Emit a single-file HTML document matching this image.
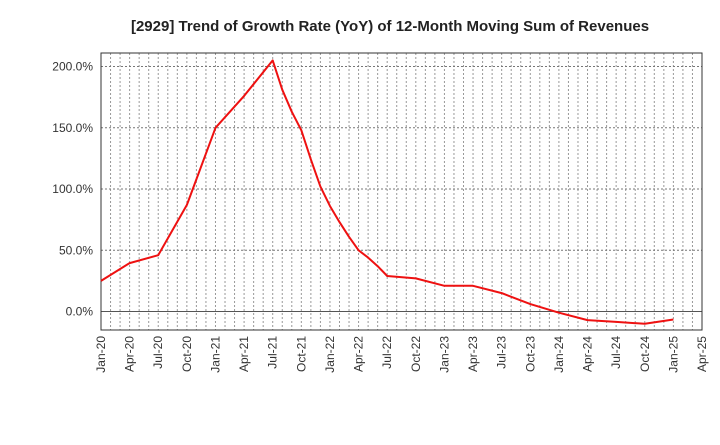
<!DOCTYPE html>
<html><head><meta charset="utf-8"><style>
body{margin:0;background:#fff;font-family:"Liberation Sans",Arial,sans-serif}
</style></head><body>
<svg id="c" width="720" height="440" xmlns="http://www.w3.org/2000/svg">
<text x="390" y="31" text-anchor="middle" font-size="15" font-weight="bold" fill="#222">[2929]  Trend of Growth Rate (YoY) of 12-Month Moving Sum of Revenues</text>
<g id="grid"></g><g id="axes"></g><g id="series"></g>
</svg>
<script>
const xTickLabels=["Jan-20","Apr-20","Jul-20","Oct-20","Jan-21","Apr-21","Jul-21","Oct-21","Jan-22","Apr-22","Jul-22","Oct-22","Jan-23","Apr-23","Jul-23","Oct-23","Jan-24","Apr-24","Jul-24","Oct-24","Jan-25","Apr-25"];
const yTicks=[0,50,100,150,200];
const monthIdx=[0,3,6,9,12,15,18,19,20,21,22,23,24,25,26,27,28,29,30,33,36,39,42,45,48,51,54,57,60];
const growth=[25,39.5,46,87,150,176,205,181,163,148,124,102,86,73,61,50,44,37,29,27,21,21,15,6,-1,-7,-8.5,-10,-6.5];
const L=101,R=702,T=53,B=330,NM=63;
const X=m=>L+(R-L)*m/NM;
const Y=v=>311.5-v*1.225;
const ns="http://www.w3.org/2000/svg";
function mk(t,a,p){const e=document.createElementNS(ns,t);for(const k in a)e.setAttribute(k,a[k]);p.appendChild(e);return e;}
const grid=document.getElementById('grid'),axes=document.getElementById('axes'),series=document.getElementById('series');
for(let m=1;m<NM;m++){
 const g=mk('line',{x1:X(m),x2:X(m),y1:T,y2:B,stroke:'#999','stroke-dasharray':'2,2','stroke-width':1},grid);
 
 
}
yTicks.forEach(v=>{
 const g=mk('line',{x1:L,x2:R,y1:Y(v),y2:Y(v),stroke:v===0?'#555':'#777','stroke-dasharray':v===0?'':'2,2','stroke-width':1},grid);
 
 
 const t=mk('text',{x:L-8,y:Y(v)+4,'text-anchor':'end','font-size':12,fill:'#333'},axes);
 t.textContent=v.toFixed(1)+'%';
 
 
});
const fr=mk('rect',{x:L,y:T,width:R-L,height:B-T,fill:'none',stroke:'#333','stroke-width':1},axes);


xTickLabels.forEach((s,i)=>{
 const x=X(i*3);
 const t=mk('text',{x:0,y:0,'text-anchor':'end','font-size':12,fill:'#333',transform:`translate(${x+4},${B+6}) rotate(-90)`},axes);
 t.textContent=s;
 
 
});
const pts=monthIdx.map((m,i)=>X(m).toFixed(1)+','+Y(growth[i]).toFixed(1)).join(' ');
const pl=mk('polyline',{points:pts,fill:'none',stroke:'#ee1111','stroke-width':2,'stroke-linejoin':'round'},series);


</script>
</body></html>
